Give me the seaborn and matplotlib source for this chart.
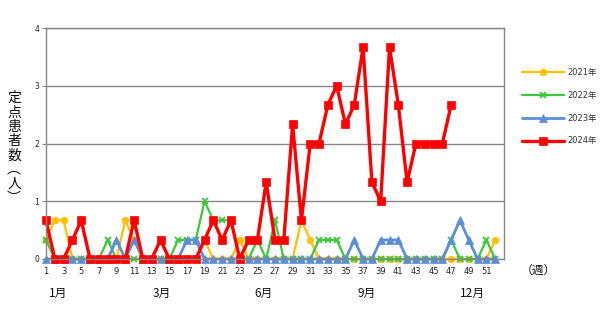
import numpy as np
import pandas as pd
import seaborn as sns
import matplotlib
matplotlib.use("Agg")
import matplotlib.pyplot as plt
import matplotlib.transforms as mtransforms

# ---------------- data ----------------
weeks = list(range(1, 53))
y2021 = [0.33, 0.67, 0.67, 0, 0, 0, 0, 0, 0, 0.67, 0.33, 0, 0, 0, 0, 0, 0, 0, 0.33, 0,
         0, 0, 0.33, 0, 0, 0, 0, 0, 0, 0.67, 0.33, 0, 0, 0, 0, 0, 0, 0, 0, 0,
         0, 0, 0, 0, 0, 0, 0, 0, 0, 0, 0, 0.33]
y2022 = [0.33, 0, 0, 0, 0, 0, 0, 0.33, 0, 0, 0, 0, 0, 0, 0, 0.33, 0.33, 0.33, 1.0, 0.67,
         0.67, 0.67, 0, 0, 0.33, 0, 0.67, 0, 0, 0, 0, 0.33, 0.33, 0.33, 0, 0, 0, 0, 0, 0,
         0, 0, 0, 0, 0, 0, 0.33, 0, 0, 0, 0.33, 0]
y2023 = [0, 0, 0, 0, 0, 0, 0, 0, 0.33, 0, 0.33, 0, 0, 0, 0, 0, 0.33, 0.33, 0, 0,
         0, 0, 0, 0, 0, 0, 0, 0, 0, 0, 0, 0, 0, 0, 0, 0.33, 0, 0, 0.33, 0.33,
         0.33, 0, 0, 0, 0, 0, 0.33, 0.67, 0.33, 0, 0, 0]
y2024 = [0.67, 0, 0, 0.33, 0.67, 0, 0, 0, 0, 0, 0.67, 0, 0, 0.33, 0, 0, 0, 0, 0.33, 0.67,
         0.33, 0.67, 0, 0.33, 0.33, 1.33, 0.33, 0.33, 2.33, 0.67, 2.0, 2.0, 2.67, 3.0, 2.33, 2.67, 3.67, 1.33, 1.0, 3.67,
         2.67, 1.33, 2.0, 2.0, 2.0, 2.0, 2.67]
series_labels = ["2021年", "2022年", "2023年", "2024年"]
xtick_labels = [str(w) for w in range(1, 53, 2)]
month_labels = ["1月", "3月", "6月", "9月", "12月"]
y_label = "定点患者数（人）"
x_unit = "（週）"

# ---------------- style ----------------
sns.set_theme(style="white")
plt.rcParams['font.family'] = ['DejaVu Sans', 'Noto Sans CJK JP']

fig = plt.figure(figsize=(6.06, 3.13), dpi=100)
ax = fig.add_axes([46/606, 1-259/313, (504-46)/606, (259-28)/313])

colors = ["#FFC000", "#3CC83C", "#5B8ED6", "#FF0000"]
markers = ["o", "x", "^", "s"]
msizes = [4.8, 4.5, 5.2, 5.8]
lws = [1.6, 1.6, 2.0, 2.4]
all_vals = [y2021, y2022, y2023, y2024]

for vals, lab, c, m, ms, lw in zip(all_vals, series_labels, colors, markers, msizes, lws):
    df = pd.DataFrame({"week": weeks[:len(vals)], "value": vals})
    sns.lineplot(data=df, x="week", y="value", ax=ax, color=c, marker=m,
                 markersize=ms, linewidth=lw, label=lab, clip_on=False,
                 markeredgecolor=c, markeredgewidth=1.3 if m == "x" else 0.5)

ax.set_xlim(1, 53)
ax.set_ylim(0, 4)
ax.set_xticks(range(1, 53, 2))
ax.set_xticklabels(xtick_labels, fontsize=6, color="#222222")
ax.set_yticks([0, 1, 2, 3, 4])
ax.set_yticklabels(["0", "1", "2", "3", "4"], fontsize=5.5, color="#222222")
ax.tick_params(axis="x", length=0, pad=6)
ax.tick_params(axis="y", length=3, width=0.8, color="#868686", pad=2, left=True)
ax.yaxis.grid(True, color="#868686", linewidth=1)
ax.set_axisbelow(True)
for s in ["left", "right", "top", "bottom"]:
    ax.spines[s].set_visible(True)
    ax.spines[s].set_color("#868686")
    ax.spines[s].set_linewidth(1)
ax.set_xlabel("")
ax.set_ylabel("")

# vertical y label (stacked characters)
vert = y_label.replace("（", "︵").replace("）", "︶")
fig.text(14/606, 1-148/313, "\n".join(vert), ha="center", va="center",
         fontsize=10, family=["Noto Sans CJK JP"], linespacing=1.02, color="#111111")

# month labels
month_pos = [2.4, 14.2, 25.7, 37.4, 49.4]
blend = mtransforms.blended_transform_factory(ax.transData, fig.transFigure)
for mp, ml in zip(month_pos, month_labels):
    ax.text(mp, 1-293/313, ml, transform=blend,
            ha="center", va="center", fontsize=8.5, family=["Noto Sans CJK JP"], color="#111111")

fig.text(538/606, 1-270/313, x_unit, ha="center", va="center", fontsize=8.5,
         family=["Noto Sans CJK JP"], color="#111111")

leg = ax.legend(loc="upper left", bbox_to_anchor=(518/606, 1-64/313),
                bbox_transform=fig.transFigure, frameon=False,
                handlelength=5.0, handletextpad=0.4, labelspacing=1.65,
                borderpad=0, prop={"family": ["DejaVu Sans", "Noto Sans CJK JP"], "size": 6})
for t in leg.get_texts():
    t.set_color("#333333")

fig.savefig("out.png", dpi=100)
